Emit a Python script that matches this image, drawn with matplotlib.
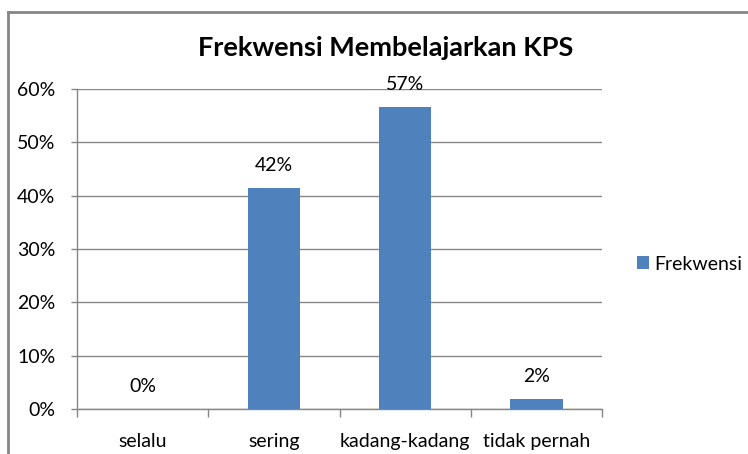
import matplotlib.pyplot as plt
import matplotlib.ticker as mticker
from matplotlib.lines import Line2D
import numpy as np

plt.rcParams['font.family'] = ['Lato', 'DejaVu Sans']

##########
# data

categories = ['selalu', 'sering', 'kadang-kadang', 'tidak pernah']
frekwensi = [0.0, 0.415, 0.566, 0.019]
labels = ['0%', '42%', '57%', '2%']
series_name = 'Frekwensi'
title = 'Frekwensi Membelajarkan KPS'

bar_color = '#4F81BD'
line_color = '#868686'

##########
# figure

W, H = 748, 454
fig = plt.figure(figsize=(W / 100, H / 100), dpi=100)
ax = fig.add_axes([77 / W, 1 - 409 / H, (602 - 77) / W, (409 - 89) / H])

x = np.arange(len(categories))
bars = ax.bar(x, frekwensi, width=0.4, color=bar_color, label=series_name, zorder=3)

for xi, v, lab in zip(x, frekwensi, labels):
    ax.annotate(lab, (xi, v), xytext=(0, 10), textcoords='offset points',
                ha='center', va='bottom', fontsize=14, color='black')

ax.set_xlim(-0.5, len(categories) - 0.5)
ax.set_ylim(0, 0.6)
ax.yaxis.set_major_locator(mticker.MultipleLocator(0.1))
ax.yaxis.set_major_formatter(mticker.PercentFormatter(1.0, decimals=0))
ax.yaxis.grid(True, color=line_color, linewidth=1, zorder=0)

ax.set_xticks(x)
ax.set_xticklabels(categories)
ax.set_xticks(np.arange(-0.5, len(categories)), minor=True)
ax.tick_params(axis='x', which='major', length=0, pad=17, labelsize=14)
ax.tick_params(axis='x', which='minor', length=6, color=line_color, width=1)
ax.tick_params(axis='y', length=4.5, color=line_color, width=1, pad=11, labelsize=14)

for s in ['top', 'right']:
    ax.spines[s].set_visible(False)
for s in ['left', 'bottom']:
    ax.spines[s].set_color(line_color)
    ax.spines[s].set_linewidth(1)

fig.text(386 / W, 1 - 48 / H, title, ha='center', va='center',
         fontsize=19.5, fontweight='bold')

ax.legend(loc='center left', bbox_to_anchor=(637 / W, 1 - 264 / H),
          bbox_transform=fig.transFigure, frameon=False, fontsize=14,
          borderpad=0, borderaxespad=0,
          handlelength=0.6, handleheight=0.6, handletextpad=0.3)

##########
# chart border

fig.add_artist(Line2D([8 / W, 8 / W], [0, 1 - 12 / H], color=line_color, lw=2,
                      transform=fig.transFigure))
fig.add_artist(Line2D([8 / W, 1], [1 - 12 / H, 1 - 12 / H], color=line_color, lw=2,
                      transform=fig.transFigure))

fig.savefig('out.png', dpi=100)
